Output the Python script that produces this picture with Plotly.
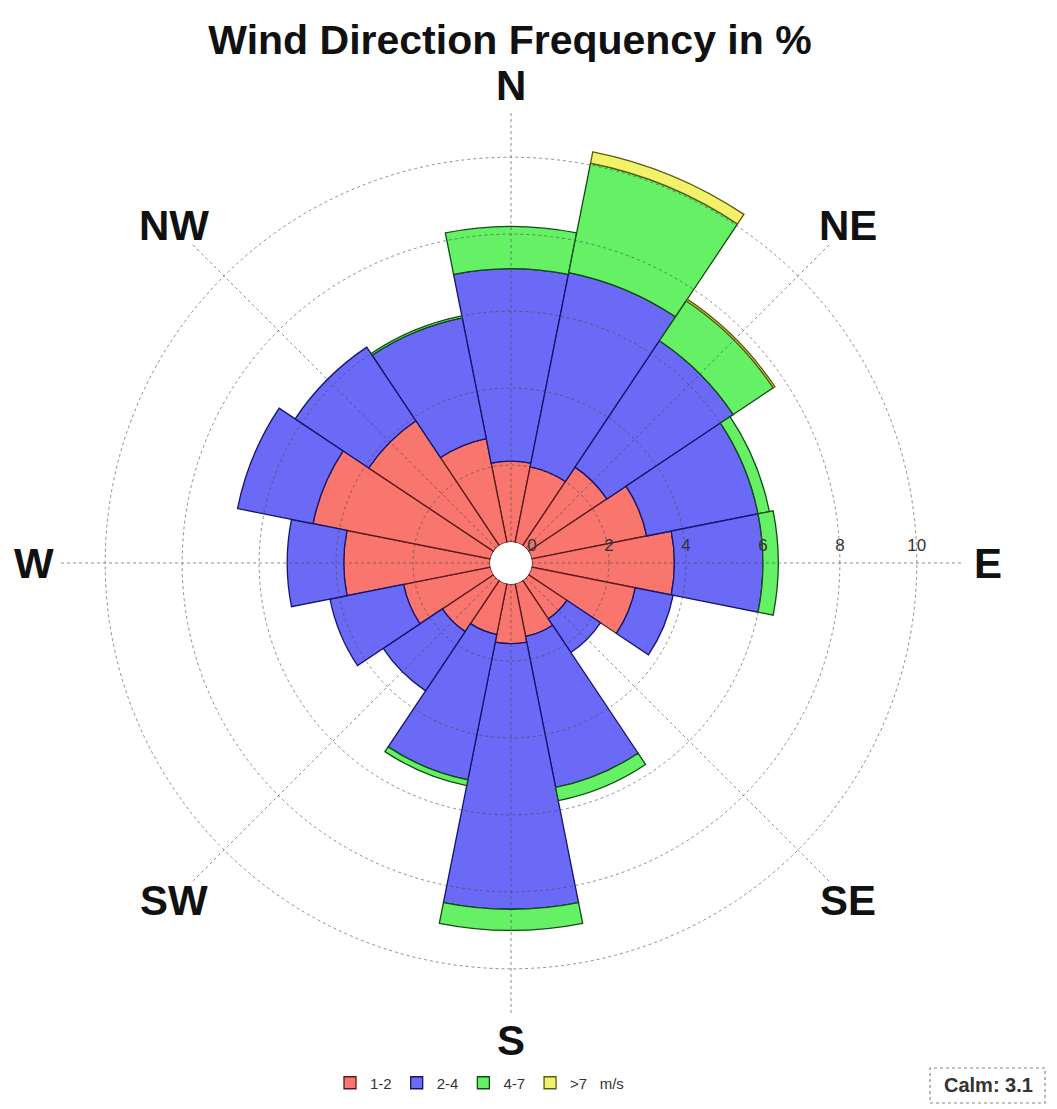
import math
import plotly.graph_objects as go

directions = ["N", "NNE", "NE", "ENE", "E", "ESE", "SE", "SSE",
              "S", "SSW", "SW", "WSW", "W", "WNW", "NW", "NNW"]
angles = [i * 22.5 for i in range(16)]

# frequency (%) per speed class, stacked
speed_1_2 = [2.1, 2.0, 2.45, 3.05, 3.7, 2.75, 1.2, 1.4, 1.55, 1.35, 1.6, 2.3, 3.8, 4.7, 3.9, 2.75]
speed_2_4 = [5.0, 5.15, 3.95, 2.95, 2.3, 1.0, 1.05, 4.0, 6.9, 3.85, 1.85, 1.95, 1.47, 2.0, 2.3, 3.2]
speed_4_7 = [1.1, 2.9, 1.25, 0.3, 0.4, 0.0, 0.0, 0.35, 0.55, 0.15, 0.0, 0.0, 0.0, 0.0, 0.0, 0.05]
speed_gt7 = [0.0, 0.3, 0.05, 0.0, 0.0, 0.0, 0.0, 0.0, 0.0, 0.0, 0.0, 0.0, 0.0, 0.0, 0.0, 0.0]

series_names = ["1-2", "2-4", "4-7", ">7   m/s"]
series_colors = ["#F8766E", "#6A6AF6", "#66F066", "#F2F26A"]
series_lines = ["#5a1a1a", "#14146e", "#0e4e0e", "#5a5a10"]

compass_vals = [0, 45, 90, 135, 180, 225, 270, 315]
compass_text = ["N", "NE", "E", "SE", "S", "SW", "W", "NW"]
radial_ticks = [0, 2, 4, 6, 8, 10]
calm_value = 3.1

W, H = 1057, 1109
cx, cy, R = 503, 555, 452   # figure coords (page body adds 8px margin)
label_r = 477
rmax = 11.2
hole = 21 / R

fig = go.Figure()
for name, vals, col, lc in zip(series_names, [speed_1_2, speed_2_4, speed_4_7, speed_gt7],
                                series_colors, series_lines):
    fig.add_trace(go.Barpolar(r=vals, theta=angles, width=[22.5] * 16, name=name,
                              marker=dict(color=col, line=dict(color=lc, width=1.3)),
                              subplot="polar"))

fig.add_trace(go.Scatterpolar(r=[None], theta=[None], subplot="polar2",
                              showlegend=False, hoverinfo="skip", mode="markers"))

dom_x = [(cx - R) / W, (cx + R) / W]
dom_y = [1 - (cy + R) / H, 1 - (cy - R) / H]
grid_col = "rgba(70,70,70,0.6)"

fig.update_layout(
    width=W, height=H,
    margin=dict(l=0, r=0, t=0, b=0),
    paper_bgcolor="white",
    font=dict(family="Liberation Sans, Arial, sans-serif", color="#222"),
    title=dict(text="Wind Direction Frequency in %", x=502 / W, xanchor="center",
               y=1 - 32 / H, yanchor="middle", yref="container",
               font=dict(size=41, weight="bold", color="#111")),
    polar=dict(
        domain=dict(x=dom_x, y=dom_y),
        hole=hole, bargap=0, barmode="stack", bgcolor="rgba(0,0,0,0)",
        radialaxis=dict(range=[0, rmax], visible=False),
        angularaxis=dict(rotation=90, direction="clockwise", visible=False),
    ),
    polar2=dict(
        domain=dict(x=dom_x, y=dom_y),
        hole=hole, bgcolor="rgba(0,0,0,0)",
        radialaxis=dict(range=[0, rmax], angle=0, tickangle=0, tickmode="array",
                        tickvals=radial_ticks, ticktext=[str(v) for v in radial_ticks],
                        showline=False, ticks="outside", ticklen=5,
                        tickcolor="rgba(0,0,0,0)", showgrid=True,
                        gridcolor=grid_col, griddash="dot", gridwidth=1.3,
                        tickfont=dict(size=17, color="#333"), side="counterclockwise"),
        angularaxis=dict(rotation=90, direction="clockwise", tickmode="array",
                         tickvals=compass_vals, ticktext=compass_text, showline=False,
                         ticks="", showgrid=True, gridcolor=grid_col, griddash="dot",
                         gridwidth=1.3, showticklabels=False),
    ),
    legend=dict(orientation="h", x=322 / W, xanchor="left", y=1 - 1075 / H,
                yanchor="middle", font=dict(size=15, color="#333"),
                bgcolor="rgba(0,0,0,0)", traceorder="normal"),
    showlegend=True,
)

for ang, txt in zip(compass_vals, compass_text):
    a = math.radians(ang)
    px = cx + label_r * math.sin(a)
    py = cy - label_r * math.cos(a)
    fig.add_annotation(text=txt, xref="paper", yref="paper", x=px / W, y=1 - py / H,
                       xanchor="center", yanchor="middle", showarrow=False,
                       font=dict(size=42, weight="bold", color="#111"))

fig.add_shape(type="rect", xref="paper", yref="paper",
              x0=922 / W, x1=1037 / W, y0=1 - 1095 / H, y1=1 - 1060 / H,
              line=dict(color="#888", width=1.2, dash="dot"), fillcolor="white")
fig.add_annotation(text=f"Calm: {calm_value}", xref="paper", yref="paper",
                   x=980 / W, y=1 - 1077 / H, xanchor="center", yanchor="middle",
                   showarrow=False, font=dict(size=20, color="#333", weight="bold"))

fig.write_html("out.html")
